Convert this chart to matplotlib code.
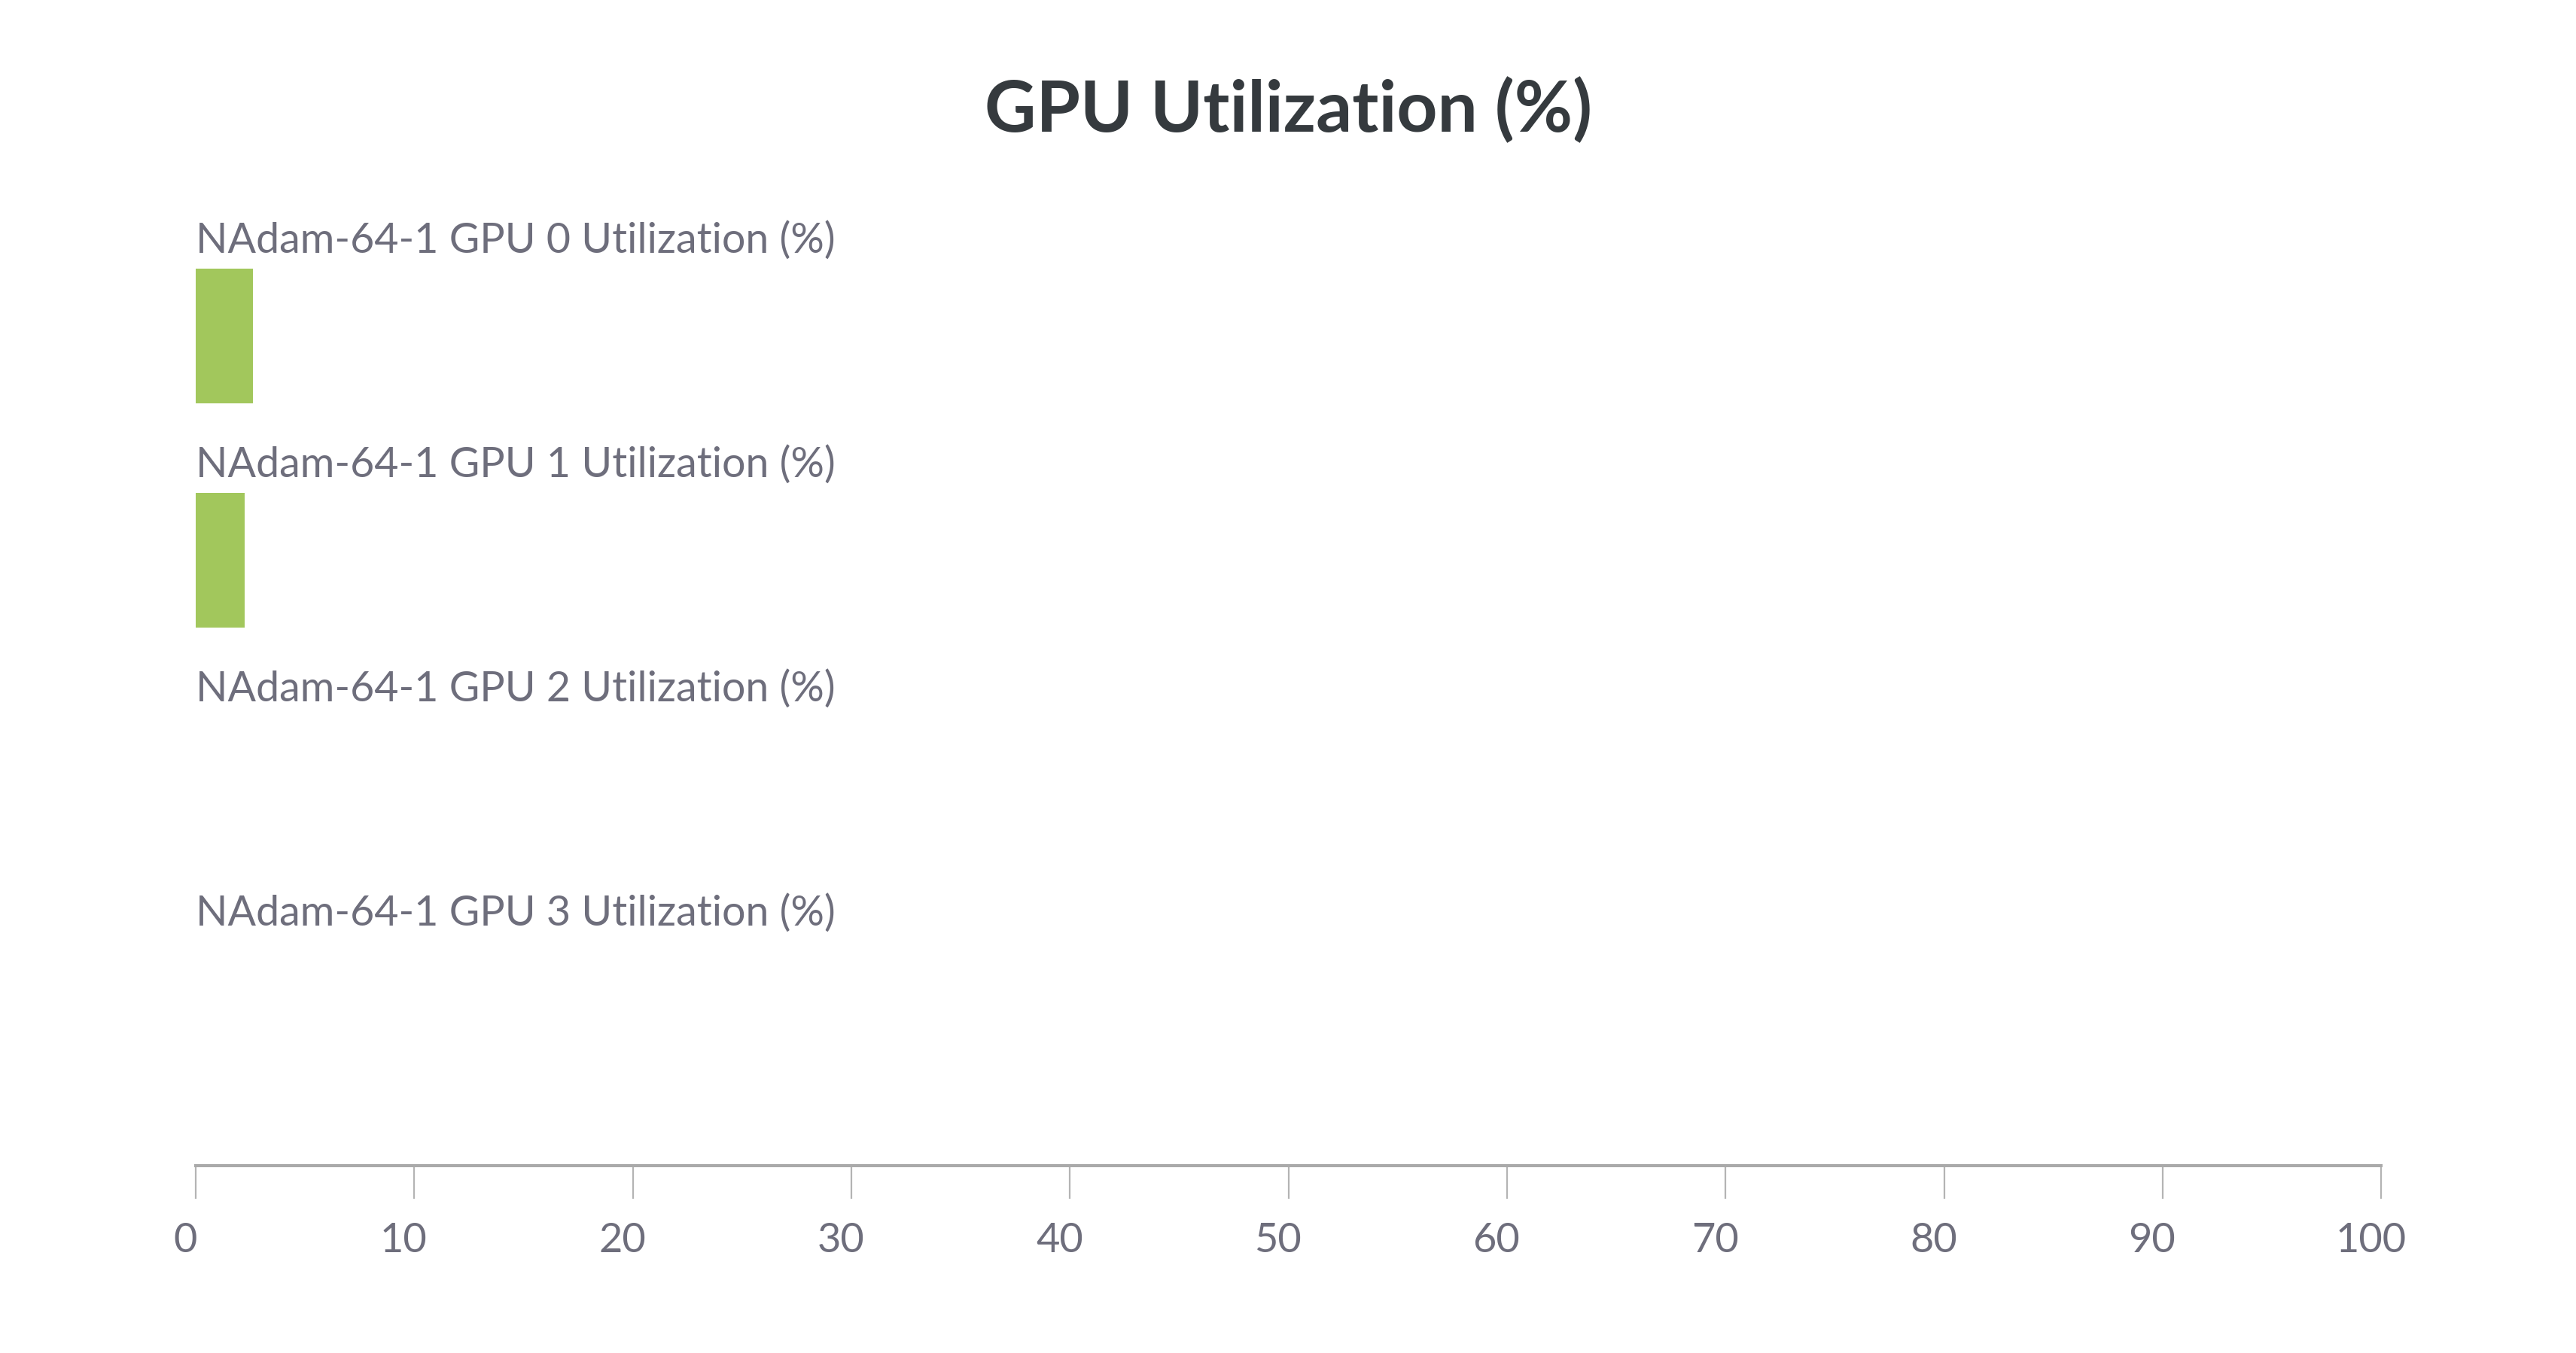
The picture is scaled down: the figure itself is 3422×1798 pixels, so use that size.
import matplotlib.pyplot as plt
import matplotlib.transforms as mtransforms

# data
gpus = ['NAdam-64-1 GPU 0 Utilization (%)',
        'NAdam-64-1 GPU 1 Utilization (%)',
        'NAdam-64-1 GPU 2 Utilization (%)',
        'NAdam-64-1 GPU 3 Utilization (%)']
utilization = [2.61, 2.24, 0.0, 0.0]
x_ticks = [0, 10, 20, 30, 40, 50, 60, 70, 80, 90, 100]

plt.rcParams['font.family'] = ['Lato', 'DejaVu Sans']

fig = plt.figure(figsize=(3423 / 200, 1798 / 200), dpi=200)
ax = fig.add_axes([0.07596, 0.13832, 0.84817, 0.77887])

rows = list(range(len(gpus)))
ax.barh(rows, utilization, height=0.6, color='#a2c75c', left=0)

for r, name in zip(rows, gpus):
    ax.text(0, r - 0.371, name, ha='left', va='baseline',
            fontsize=20, color='#6e6e7c')

ax.set_xlim(0, 100)
ax.set_ylim(3.703, -1.0)
ax.set_yticks([])
ax.set_xticks(x_ticks)
ax.set_xticklabels([str(t) for t in x_ticks])

for side in ['top', 'right', 'left']:
    ax.spines[side].set_visible(False)
ax.spines['bottom'].set_color('#aaaaaa')
ax.spines['bottom'].set_linewidth(1.5)
ax.tick_params(axis='x', length=15.8, width=0.8, color='#b4b4b4',
               labelsize=19.5, labelcolor='#6e6e7c', pad=11)

# labels sit slightly left of their ticks in the reference
shift = mtransforms.ScaledTranslation(-14 / 200, 0, fig.dpi_scale_trans)
for lbl in ax.get_xticklabels():
    lbl.set_transform(lbl.get_transform() + shift)

fig.text(0.5, 1 - 175 / 1798, 'GPU Utilization (%)', ha='center', va='baseline',
         fontsize=34, fontweight='bold', color='#353a3e')

fig.savefig('out.png', dpi=200, facecolor='white')
